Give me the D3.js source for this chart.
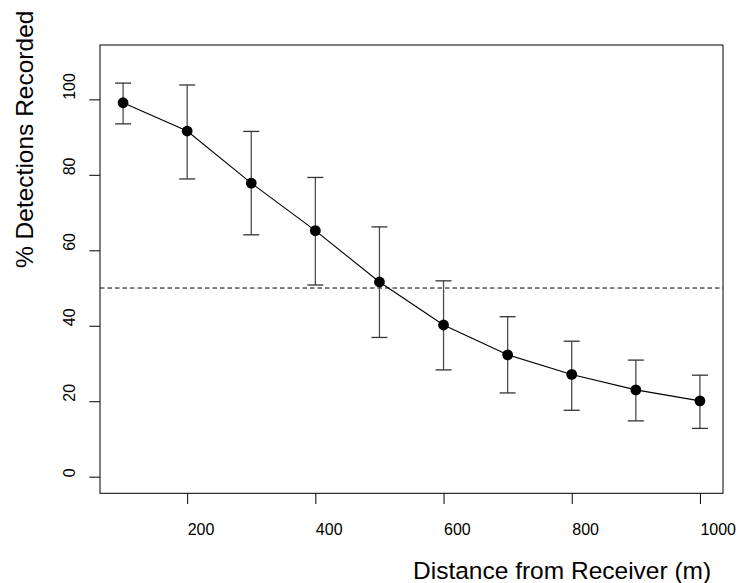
<!DOCTYPE html>
<html lang="en">
<head>
<meta charset="UTF-8">
<title>Detections vs distance</title>
<style>
  body { margin: 0; background: #fff; }
  svg text { font-family: "Liberation Sans", Arial, sans-serif; fill: #000; }
</style>
</head>
<body>
<svg id="chart"></svg>
<script src="https://cdn.jsdelivr.net/npm/d3@7"></script>
<script>
// data
var distances = [100, 200, 300, 400, 500, 600, 700, 800, 900, 1000];
var pctDetected = [99.1, 91.6, 77.8, 65.2, 51.6, 40.2, 32.3, 27.1, 23.0, 20.1];
var upperBound = [104.3, 103.8, 91.5, 79.3, 66.2, 51.9, 42.4, 35.9, 30.9, 26.9];
var lowerBound = [93.5, 78.9, 64.1, 50.8, 36.9, 28.3, 22.2, 17.6, 14.8, 12.8];
var xTicks = [200, 400, 600, 800, 1000];
var yTicks = [0, 20, 40, 60, 80, 100];
var refLine = 50;

var width = 743, height = 583;
var box = { left: 100, right: 723, top: 45, bottom: 493.3 };

var svg = d3.select("#chart").attr("width", width).attr("height", height);

// R style: limits padded 4% each side
var x = d3.scaleLinear().domain([64, 1036]).range([box.left, box.right]);
var y = d3.scaleLinear().domain([-4.4, 114.4]).range([box.bottom, box.top]);

var rows = distances.map(function(d, i) {
  return { x: d, y: pctDetected[i], hi: upperBound[i], lo: lowerBound[i] };
});

// x axis
var xAxis = d3.axisBottom(x).tickValues(xTicks).tickFormat(d3.format("d"))
  .tickSize(10.7).tickPadding(0);
var gx = svg.append("g")
  .attr("transform", "translate(0," + box.bottom + ")")
  .call(xAxis);
gx.select(".domain").remove();
gx.selectAll(".tick line").attr("stroke", "#000");
gx.selectAll(".tick text")
  .attr("y", 535 - box.bottom)
  .attr("dy", null)
  .attr("text-anchor", "start")
  .style("font-size", "16px");

// y axis, labels rotated like R's las=0
var yAxis = d3.axisLeft(y).tickValues(yTicks).tickFormat(d3.format("d"))
  .tickSize(10.7).tickPadding(0);
var gy = svg.append("g")
  .attr("transform", "translate(" + box.left + ",0)")
  .call(yAxis);
gy.select(".domain").remove();
gy.selectAll(".tick line").attr("stroke", "#000");
gy.selectAll(".tick text")
  .attr("x", null).attr("dy", null)
  .attr("text-anchor", "start")
  .attr("transform", "translate(" + (75 - box.left) + ",0) rotate(-90)")
  .style("font-size", "16px");

// plot frame
svg.append("rect")
  .attr("x", box.left).attr("y", box.top)
  .attr("width", box.right - box.left).attr("height", box.bottom - box.top)
  .attr("fill", "none").attr("stroke", "#000").attr("stroke-width", 1);

// 50% reference line
svg.append("line")
  .attr("x1", box.left).attr("x2", box.right)
  .attr("y1", y(refLine)).attr("y2", y(refLine))
  .attr("stroke", "#000").attr("stroke-width", 1)
  .attr("stroke-dasharray", "4.5,3");

// error bars
var bars = svg.append("g").selectAll("g").data(rows).enter().append("g");
bars.append("line")
  .attr("x1", function(d) { return x(d.x); })
  .attr("x2", function(d) { return x(d.x); })
  .attr("y1", function(d) { return y(d.hi); })
  .attr("y2", function(d) { return y(d.lo); })
  .attr("stroke", "#4d4d4d").attr("stroke-width", 1.3);
bars.append("line")
  .attr("x1", function(d) { return x(d.x) - 8; })
  .attr("x2", function(d) { return x(d.x) + 8; })
  .attr("y1", function(d) { return y(d.hi); })
  .attr("y2", function(d) { return y(d.hi); })
  .attr("stroke", "#333").attr("stroke-width", 1.3);
bars.append("line")
  .attr("x1", function(d) { return x(d.x) - 8; })
  .attr("x2", function(d) { return x(d.x) + 8; })
  .attr("y1", function(d) { return y(d.lo); })
  .attr("y2", function(d) { return y(d.lo); })
  .attr("stroke", "#333").attr("stroke-width", 1.3);

// connecting line and points
var line = d3.line().x(function(d) { return x(d.x); }).y(function(d) { return y(d.y); });
svg.append("path").datum(rows)
  .attr("d", line).attr("fill", "none")
  .attr("stroke", "#000").attr("stroke-width", 1.1);

svg.append("g").selectAll("circle").data(rows).enter().append("circle")
  .attr("cx", function(d) { return x(d.x); })
  .attr("cy", function(d) { return y(d.y); })
  .attr("r", 5.4)
  .attr("fill", "#000");

// axis titles, start-anchored as in the picture
svg.append("text")
  .attr("x", 413).attr("y", 579)
  .style("font-size", "24.5px")
  .text("Distance from Receiver (m)");

svg.append("text")
  .attr("transform", "translate(33,268) rotate(-90)")
  .style("font-size", "24.5px")
  .text("% Detections Recorded");
</script>
</body>
</html>
